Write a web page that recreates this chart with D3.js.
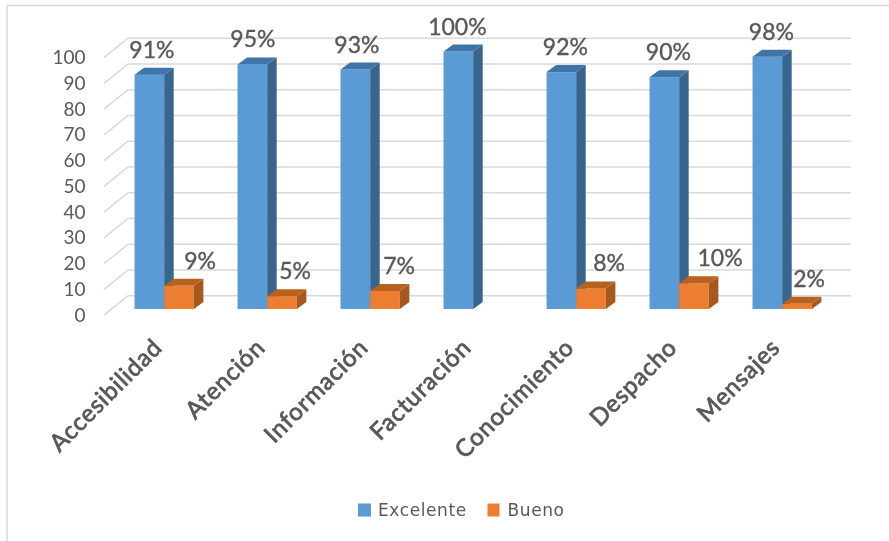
<!DOCTYPE html>
<html>
<head>
<meta charset="utf-8">
<script src="https://cdn.jsdelivr.net/npm/d3@7"></script>
<style>
    html, body { margin: 0; padding: 0; background: #fff; }
    svg { display: block; }
    text { fill: #595959; }
    .soft { filter: blur(0.7px); }
</style>
</head>
<body>
<div id="chart"></div>
<script>
const categories = ["Accesibilidad", "Atención", "Información", "Facturación", "Conocimiento", "Despacho", "Mensajes"]
const excelente = [91, 95, 93, 100, 92, 90, 98]
const bueno = [9, 5, 7, null, 8, 10, 2]
const yTicks = [0, 10, 20, 30, 40, 50, 60, 70, 80, 90, 100]
const seriesNames = ["Excelente", "Bueno"]

const width = 889
const height = 541
const depthX = 9.5
const depthY = 7
const wallX = 24
const wallY = 19.5
const baseY = 309

// data labels were dragged by hand in the original, so each gets its own nudge
const blueNudge = [2.5, 0.5, 1.5, -1, 4, 4, 4]
const orangeNudge = [21, 13, 14, 0, 18, 26, 12]

const blue = { front: "#5B9BD5", side: "#38658D", top: "#3F74A6" }
const orange = { front: "#ED7D31", side: "#A5591F", top: "#B9621F" }

const svg = d3.select("#chart")
    .append("svg")
    .attr("width", width)
    .attr("height", height)
const g = svg.append("g").attr("class", "soft")

const x = d3.scaleBand()
    .domain(categories)
    .range([112.7, 833.7])
    .paddingInner(0.424)
    .paddingOuter(0.212)
const xSeries = d3.scaleBand()
    .domain(seriesNames)
    .range([0, x.bandwidth()])
const y = d3.scaleLinear()
    .domain([0, 100])
    .range([baseY, baseY - 257.5])

// frame
g.append("path")
    .attr("d", `M7,${height + 5}V5.5H${width + 5}`)
    .attr("fill", "none")
    .attr("stroke", "#d9d9d9")
    .attr("stroke-width", 1.5)

// back wall gridlines plus the slanted floor/side lines
const axisX = 104
const backOffset = baseY - 295.7
yTicks.forEach(d => {
    let backY = y(d) - backOffset
    g.append("path")
        .attr("d", `M${axisX},${backY + wallY}L${axisX + wallX},${backY}H851`)
        .attr("fill", "none")
        .attr("stroke", "#d9d9d9")
        .attr("stroke-width", 1.5)
    g.append("text")
        .text(d)
        .attr("x", 85.5)
        .attr("y", backY + wallY + 6.5)
        .attr("text-anchor", "end")
        .style("font", "19px Lato")
})

function drawBar(x0, w, value, colors) {
    let top = y(value)
    let right = x0 + w
    g.append("rect")
        .attr("x", x0)
        .attr("y", top)
        .attr("width", w)
        .attr("height", baseY - top)
        .attr("fill", colors.front)
    g.append("polygon")
        .attr("points", [[right, top], [right + depthX, top - depthY], [right + depthX, baseY - depthY], [right, baseY]].join(" "))
        .attr("fill", colors.side)
    g.append("polygon")
        .attr("points", [[x0, top], [x0 + depthX, top - depthY], [right + depthX, top - depthY], [right, top]].join(" "))
        .attr("fill", colors.top)
}

function addLabel(value, cx, top) {
    g.append("text")
        .text(`${value}%`)
        .attr("x", cx)
        .attr("y", top - 17)
        .attr("text-anchor", "middle")
        .style("font", "23px Lato")
        .style("stroke", "#595959")
        .style("stroke-width", 0.4)
}

categories.forEach((c, i) => {
    let x0 = x(c)
    let blueX = x0 + xSeries("Excelente")
    let orangeX = x0 + xSeries("Bueno")
    drawBar(blueX, xSeries.bandwidth(), excelente[i], blue)
    addLabel(excelente[i], blueX + xSeries.bandwidth() / 2 + blueNudge[i], y(excelente[i]))
    if (bueno[i] != null) {
        drawBar(orangeX, xSeries.bandwidth(), bueno[i], orange)
        addLabel(bueno[i], orangeX + xSeries.bandwidth() / 2 + orangeNudge[i], y(bueno[i]))
    }
    g.append("text")
        .text(c)
        .attr("transform", `translate(${x0 + 29},349) rotate(-45)`)
        .attr("text-anchor", "end")
        .style("font", "24px Lato")
        .style("letter-spacing", "0.8px")
        .style("stroke", "#595959")
        .style("stroke-width", 0.8)
})

// legend
const legend = d3.scaleOrdinal().domain(seriesNames).range([358, 487.5])
seriesNames.forEach((s, i) => {
    g.append("rect")
        .attr("x", legend(s))
        .attr("y", 503.5)
        .attr("width", i == 0 ? 13 : 12)
        .attr("height", 13)
        .attr("fill", i == 0 ? blue.front : orange.front)
    g.append("text")
        .text(s)
        .attr("x", legend(s) + 20)
        .attr("y", 516)
        .style("font", "17px 'DejaVu Sans'")
        .style("letter-spacing", "0.6px")
})
</script>
</body>
</html>
